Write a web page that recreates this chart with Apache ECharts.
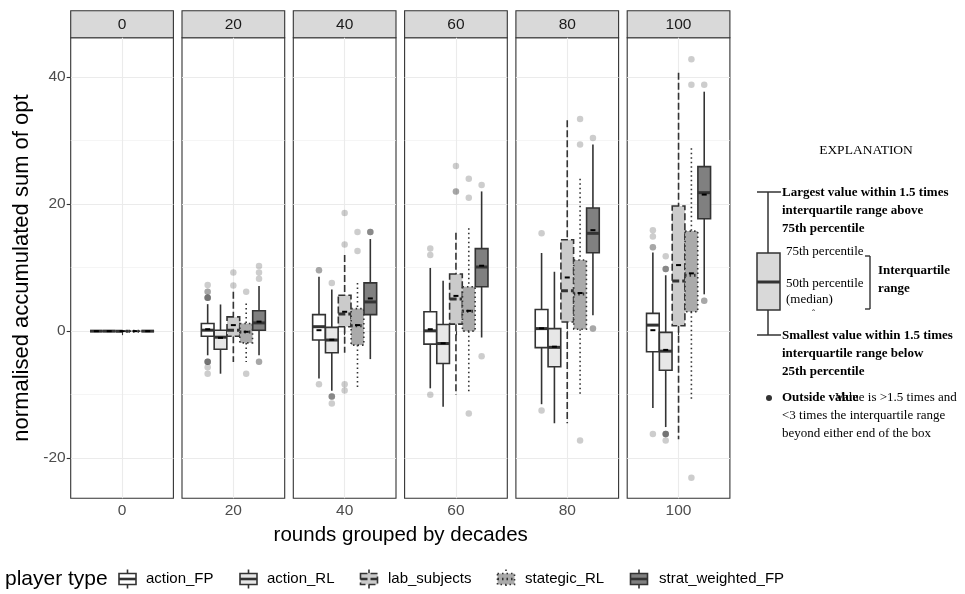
<!DOCTYPE html>
<html>
<head>
<meta charset="utf-8">
<script src="https://cdn.jsdelivr.net/npm/echarts@6/dist/echarts.min.js"></script>
<style>
  html, body { margin: 0; padding: 0; background: #fff; }
  #chart { width: 965px; height: 594px; }
</style>
</head>
<body>
<div id="chart"></div>
<script>
const SANS = "'Liberation Sans', Arial, Helvetica, sans-serif";
const SERIF = "'Liberation Serif', 'Times New Roman', serif";

const decades = ['0', '20', '40', '60', '80', '100'];
const playerTypes = ['action_FP', 'action_RL', 'lab_subjects', 'stategic_RL', 'strat_weighted_FP'];
const yTicks = [-20, 0, 20, 40];
const yMinorTicks = [-10, 10, 30];

// one row per decade: [lower whisker, Q1, median, Q3, upper whisker, mean]
const statsActionFP = [
  [0, 0, 0, 0, 0, 0],
  [-3.8, -0.8, 0.15, 1.2, 4.25, 0.3],
  [-7.45, -1.4, 0.7, 2.6, 8.55, 0.15],
  [-9.0, -2.05, 0.05, 3.05, 9.95, 0.3],
  [-11.5, -2.6, 0.4, 3.4, 12.3, 0.45],
  [-12.1, -3.25, 0.95, 2.8, 12.4, 0.15]
];
const statsActionRL = [
  [0, 0, 0, 0, 0, 0],
  [-6.7, -2.85, -0.95, 0.15, 4.2, -1.05],
  [-9.4, -3.4, -1.4, 0.6, 6.55, -1.35],
  [-11.9, -5.1, -1.95, 1.05, 7.95, -1.9],
  [-14.5, -5.6, -2.55, 0.4, 9.35, -2.45],
  [-15.1, -6.15, -3.15, -0.2, 8.8, -2.95]
];
const statsLabSubjects = [
  [0, 0, 0, 0, 0, 0],
  [-4.85, -0.8, 0.15, 2.25, 6.2, 0.95],
  [-3.4, 0.7, 2.7, 5.65, 12.0, 3.05],
  [-10.0, 1.1, 5.05, 9.0, 15.5, 5.55],
  [-14.5, 1.45, 6.35, 14.4, 33.2, 8.45],
  [-17.0, 0.85, 7.9, 19.7, 40.7, 10.4]
];
const statsStategicRL = [
  [0, 0, 0, 0, 0, 0],
  [-4.85, -1.85, -0.15, 1.2, 4.35, -0.1],
  [-9.2, -2.2, 0.85, 3.55, 7.6, 0.95],
  [-9.9, 0, 3.15, 7.0, 16.2, 3.2],
  [-10.3, 0.3, 5.85, 11.2, 24.0, 6.0],
  [-10.8, 3.05, 8.8, 15.75, 28.8, 9.1]
];
const statsStratWeightedFP = [
  [0, 0, 0, 0, 0, 0],
  [-3.8, 0.15, 1.3, 3.2, 7.1, 1.5],
  [-4.4, 2.6, 4.6, 7.6, 14.5, 5.15],
  [-1.0, 7.0, 10.1, 13.0, 22.0, 10.3],
  [2.5, 12.35, 15.4, 19.4, 29.4, 15.9],
  [5.8, 17.7, 21.8, 25.9, 37.7, 21.5]
];

// outliers: [decade index, value]; repeated entries are overlapping observations
const outActionFP = [
  [1, 7.25], [1, 6.2], [1, 6.2], [1, 5.25], [1, 5.25], [1, 5.25], [1, 5.25],
  [1, -4.8], [1, -4.8], [1, -4.8], [1, -4.8], [1, -5.7], [1, -6.7],
  [2, 9.6], [2, 9.6], [2, -8.35],
  [3, 13.0], [3, 12.0], [3, -10.0],
  [4, 15.4], [4, -12.5],
  [5, 15.9], [5, 14.9], [5, 13.2], [5, 13.2], [5, -16.2]
];
const outActionRL = [
  [2, 7.6], [2, -10.3], [2, -10.3], [2, -10.3], [2, -11.4],
  [5, 11.8], [5, 9.8], [5, 9.8], [5, 9.8],
  [5, -16.2], [5, -16.2], [5, -16.2], [5, -16.2], [5, -17.2]
];
const outLabSubjects = [
  [1, 9.25], [1, 7.2],
  [2, 18.6], [2, 13.65], [2, -8.35], [2, -9.35],
  [3, 26.0], [3, 22.0], [3, 22.0]
];
const outStategicRL = [
  [1, 6.2], [1, -6.7],
  [2, 15.6], [2, 12.6],
  [3, 24.0], [3, 21.0], [3, -12.95],
  [4, 33.4], [4, 29.4], [4, -17.2],
  [5, 42.8], [5, 38.8], [5, -23.1]
];
const outStratWeightedFP = [
  [1, 10.25], [1, 9.25], [1, 8.25], [1, -4.8], [1, -4.8],
  [2, 15.6], [2, 15.6], [2, 15.6],
  [3, 23.0], [3, -3.95],
  [4, 30.4], [4, 0.4], [4, 0.4],
  [5, 38.8], [5, 4.8], [5, 4.8]
];

const boxStats = [statsActionFP, statsActionRL, statsLabSubjects, statsStategicRL, statsStratWeightedFP];
const outliers = [outActionFP, outActionRL, outLabSubjects, outStategicRL, outStratWeightedFP];

// look of each player type
const typeStyles = [
  { fill: '#ffffff', dash: null },
  { fill: '#e7e7e7', dash: null },
  { fill: '#cbcbcb', dash: [7, 3] },
  { fill: '#aaaaaa', dash: [1.5, 3] },
  { fill: '#808080', dash: null }
];
const dodge = [-0.3, -0.15, 0, 0.15, 0.3];
const HALF_W = 0.074;
const EDGE = '#333333';

const Y_MIN = -26.3, Y_MAX = 46.2;
const PANEL_LEFT = 70.7, PANEL_STEP = 111.3, PANEL_W = 102.7;
const PANEL_TOP = 37.7, PANEL_H = 460.5;

function makeBoxRenderer(k) {
  const st = typeStyles[k];
  return function (params, api) {
    const x = api.value(0);
    const lo = api.coord([x, api.value(1)]);
    const q1 = api.coord([x, api.value(2)]);
    const md = api.coord([x, api.value(3)]);
    const q3 = api.coord([x, api.value(4)]);
    const hi = api.coord([x, api.value(5)]);
    const mn = api.coord([x, api.value(6)]);
    const xl = api.coord([x - HALF_W, 0])[0];
    const xr = api.coord([x + HALF_W, 0])[0];
    const cx = lo[0];
    const line = { stroke: EDGE, lineWidth: 1.6, lineDash: st.dash };
    return {
      type: 'group',
      children: [
        { type: 'line', shape: { x1: cx, y1: hi[1], x2: cx, y2: q3[1] }, style: line },
        { type: 'line', shape: { x1: cx, y1: q1[1], x2: cx, y2: lo[1] }, style: line },
        { type: 'rect', shape: { x: xl, y: q3[1], width: xr - xl, height: q1[1] - q3[1] },
          style: Object.assign({ fill: st.fill }, line) },
        { type: 'line', shape: { x1: xl, y1: md[1], x2: xr, y2: md[1] },
          style: { stroke: EDGE, lineWidth: 3, lineDash: st.dash } },
        { type: 'line', shape: { x1: cx - 2.5, y1: mn[1], x2: cx + 2.5, y2: mn[1] },
          style: { stroke: '#000', lineWidth: 2 } }
      ]
    };
  };
}

const grids = [], xAxes = [], yAxes = [], series = [], graphics = [];

decades.forEach(function (dec, g) {
  const left = PANEL_LEFT + g * PANEL_STEP;
  grids.push({
    left: left, top: PANEL_TOP, width: PANEL_W, height: PANEL_H,
    show: true, backgroundColor: '#fff', borderColor: EDGE, borderWidth: 1.1
  });
  xAxes.push({
    type: 'value', gridIndex: g, min: 0.4, max: 1.6,
    axisLine: { show: false },
    axisTick: { show: true, customValues: [1], length: 4, lineStyle: { color: EDGE, width: 1.1 } },
    axisLabel: { customValues: [1], formatter: function () { return dec; },
      color: '#4d4d4d', fontSize: 15.5, fontFamily: SANS, margin: 5 },
    splitLine: { show: true, lineStyle: { color: '#ebebeb', width: 1.1 } }
  });
  yAxes.push({
    type: 'value', gridIndex: g, min: Y_MIN, max: Y_MAX,
    axisLine: { show: false },
    axisTick: { show: g === 0, customValues: yTicks, length: 4, lineStyle: { color: EDGE, width: 1.1 } },
    axisLabel: { show: g === 0, customValues: yTicks, color: '#4d4d4d', fontSize: 15.5, fontFamily: SANS, margin: 5 },
    splitLine: { show: true, lineStyle: { color: '#ebebeb', width: 1.1 } }
  });
  yAxes.push({
    type: 'value', gridIndex: g, min: Y_MIN, max: Y_MAX, position: 'left',
    axisLine: { show: false },
    axisTick: { show: false, customValues: yMinorTicks },
    axisLabel: { show: false, customValues: yMinorTicks },
    splitLine: { show: true, lineStyle: { color: '#f1f1f1', width: 0.7 } }
  });

  playerTypes.forEach(function (name, k) {
    series.push({
      name: name, type: 'custom', xAxisIndex: g, yAxisIndex: g * 2,
      data: [[1 + dodge[k]].concat(boxStats[k][g])],
      encode: { x: 0, y: [1, 2, 3, 4, 5, 6] },
      renderItem: makeBoxRenderer(k),
      silent: true, z: 3
    });
    const pts = outliers[k].filter(function (p) { return p[0] === g; })
      .map(function (p) { return [1 + dodge[k], p[1]]; });
    if (pts.length) {
      series.push({
        name: name, type: 'scatter', xAxisIndex: g, yAxisIndex: g * 2,
        data: pts, symbolSize: 6.5, silent: true, z: 4,
        itemStyle: { color: 'rgba(51,51,51,0.3)' }
      });
    }
  });

  // facet strip
  graphics.push({
    type: 'rect', silent: true,
    shape: { x: left, y: 10.7, width: PANEL_W, height: 27 },
    style: { fill: '#d9d9d9', stroke: EDGE, lineWidth: 1.1 }
  });
  graphics.push({
    type: 'text', silent: true, x: left + PANEL_W / 2, y: 24.5,
    style: { text: dec, fill: '#1a1a1a', fontSize: 15.5, fontFamily: SANS,
      align: 'center', verticalAlign: 'middle', textAlign: 'center', textVerticalAlign: 'middle' }
  });
});

function txt(s, x, y, opt) {
  opt = opt || {};
  return {
    type: 'text', silent: true, x: x, y: y, rotation: opt.rotation || 0,
    style: {
      text: s, fill: opt.color || '#000', fontSize: opt.size || 13,
      fontFamily: opt.family || SERIF, fontWeight: opt.bold ? 'bold' : 'normal',
      align: opt.align || 'left', verticalAlign: 'middle',
      textAlign: opt.align || 'left', textVerticalAlign: 'middle'
    }
  };
}
function seg(x1, y1, x2, y2, w, dash) {
  return { type: 'line', silent: true, shape: { x1: x1, y1: y1, x2: x2, y2: y2 },
    style: { stroke: EDGE, lineWidth: w || 1.5, lineDash: dash || null } };
}

// axis titles
graphics.push(txt('normalised accumulated sum of opt', 22, 268,
  { family: SANS, size: 22, align: 'center', rotation: Math.PI / 2 }));
graphics.push(txt('rounds grouped by decades', 400.7, 535, { family: SANS, size: 20.5, align: 'center' }));

// legend
graphics.push(txt('player type', 5, 579, { family: SANS, size: 21 }));
const keyX = [127.5, 248.5, 369, 506, 639];
const keyTextX = [146, 267, 388, 525, 659];
playerTypes.forEach(function (name, k) {
  const cx = keyX[k], cy = 579, st = typeStyles[k];
  graphics.push(seg(cx, cy - 9.5, cx, cy - 5.5, 1.6, st.dash));
  graphics.push(seg(cx, cy + 5.5, cx, cy + 9.5, 1.6, st.dash));
  graphics.push({ type: 'rect', silent: true, shape: { x: cx - 8.5, y: cy - 5.5, width: 17, height: 11 },
    style: { fill: st.fill, stroke: EDGE, lineWidth: 1.6, lineDash: st.dash } });
  graphics.push(seg(cx - 8.5, cy, cx + 8.5, cy, 2.6, st.dash));
  graphics.push(txt(name, keyTextX[k], cy, { family: SANS, size: 15 }));
});

// explanation panel
graphics.push(txt('EXPLANATION', 866, 150, { size: 13.5, align: 'center' }));
graphics.push(seg(757, 192, 781, 192));
graphics.push(seg(768, 192, 768, 253));
graphics.push({ type: 'rect', silent: true, shape: { x: 757, y: 253, width: 23, height: 57 },
  style: { fill: '#d9d9d9', stroke: EDGE, lineWidth: 1.5 } });
graphics.push(seg(757, 282, 780, 282, 3));
graphics.push(seg(768, 310, 768, 335));
graphics.push(seg(757, 335, 781, 335));
graphics.push(seg(865, 256, 870, 256, 1.4));
graphics.push(seg(870, 256, 870, 309, 1.4));
graphics.push(seg(865, 309, 870, 309, 1.4));
graphics.push(txt('Largest value within 1.5 times', 782, 193, { bold: true }));
graphics.push(txt('interquartile range above', 782, 211, { bold: true }));
graphics.push(txt('75th percentile', 782, 229, { bold: true }));
graphics.push(txt('75th percentile', 786, 252));
graphics.push(txt('50th percentile', 786, 284));
graphics.push(txt('(median)', 786, 300));
graphics.push(txt('\u02c6', 812, 314, { size: 9 }));
graphics.push(txt('Interquartile', 878, 271, { bold: true }));
graphics.push(txt('range', 878, 289, { bold: true }));
graphics.push(txt('Smallest value within 1.5 times', 782, 336, { bold: true }));
graphics.push(txt('interquartile range below', 782, 354, { bold: true }));
graphics.push(txt('25th percentile', 782, 372, { bold: true }));
graphics.push({ type: 'circle', silent: true, shape: { cx: 769, cy: 398, r: 3 }, style: { fill: EDGE } });
graphics.push(txt('Outside value', 782, 398, { bold: true }));
graphics.push(txt('Value is >1.5 times and', 835, 398));
graphics.push(txt('<3 times the interquartile range', 782, 416));
graphics.push(txt('beyond either end of the box', 782, 434));

const chart = echarts.init(document.getElementById('chart'), null, { renderer: 'canvas' });
chart.setOption({
  animation: false,
  backgroundColor: '#fff',
  grid: grids,
  xAxis: xAxes,
  yAxis: yAxes,
  series: series,
  graphic: { elements: graphics }
});
</script>
</body>
</html>
